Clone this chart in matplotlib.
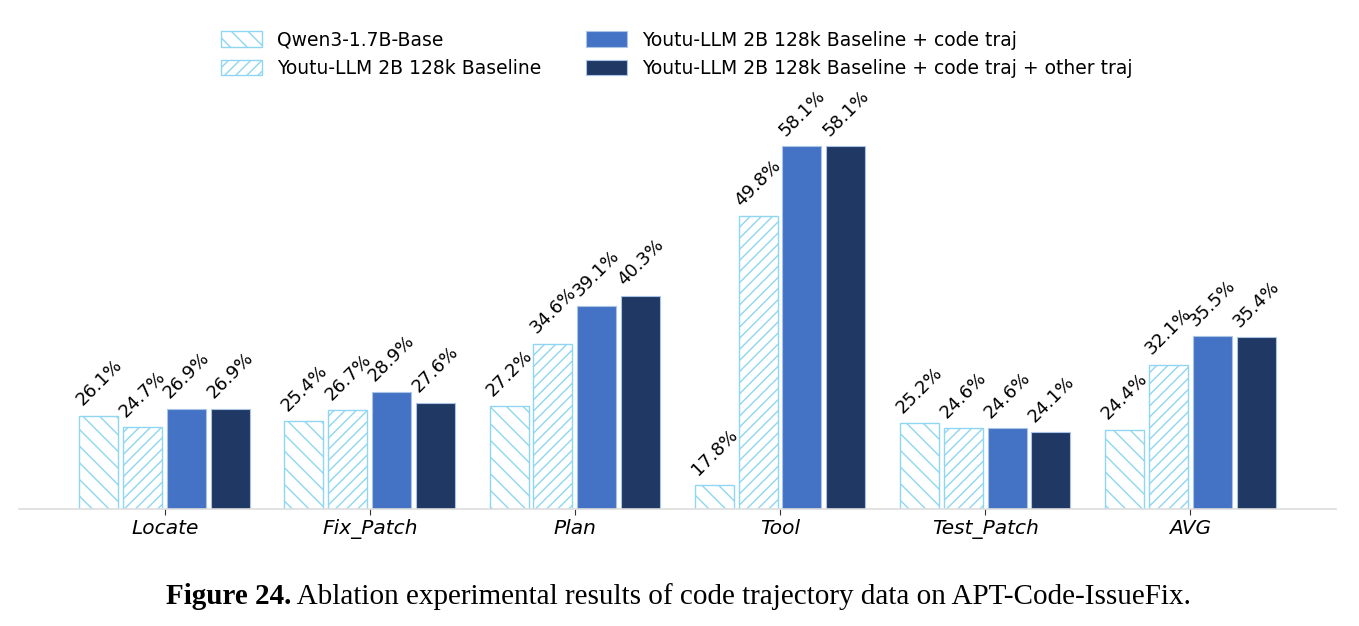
import matplotlib.pyplot as plt
import numpy as np

categories = ["Locate", "Fix_Patch", "Plan", "Tool", "Test_Patch", "AVG"]
series_names = ["Qwen3-1.7B-Base",
                "Youtu-LLM 2B 128k Baseline",
                "Youtu-LLM 2B 128k Baseline + code traj",
                "Youtu-LLM 2B 128k Baseline + code traj + other traj"]
qwen = [26.1, 25.4, 27.2, 17.8, 25.2, 24.4]
baseline = [24.7, 26.7, 34.6, 49.8, 24.6, 32.1]
code_traj = [26.9, 28.9, 39.1, 58.1, 24.6, 35.5]
other_traj = [26.9, 27.6, 40.3, 58.1, 24.1, 35.4]

hatch_col = "#8fd6f2"
plt.rcParams['hatch.color'] = hatch_col
plt.rcParams['hatch.linewidth'] = 1.0

fig = plt.figure(figsize=(13.59, 6.26), dpi=100)
ax = fig.add_axes([0.014, 0.187, 0.969, 0.66])

x = np.arange(len(categories))
step = 0.214
width = 0.19
styles = [
    dict(facecolor="white", edgecolor=hatch_col, hatch="\\\\", linewidth=1.0),
    dict(facecolor="white", edgecolor=hatch_col, hatch="///", linewidth=1.0),
    dict(facecolor="#4472c4", edgecolor="#a9c4e6", linewidth=0.8),
    dict(facecolor="#203864", edgecolor="#a9c4e6", linewidth=0.8),
]
data = [qwen, baseline, code_traj, other_traj]

for i, (vals, st, name) in enumerate(zip(data, styles, series_names)):
    pos = x + (i - 1.5) * step
    bars = ax.bar(pos, vals, width, label=name, **st)
    for b, v in zip(bars, vals):
        ax.text(b.get_x() + b.get_width() / 2, v + 0.8, "%.1f%%" % v,
                ha="center", va="bottom", rotation=45, fontsize=13)

ax.set_xlim(-0.71, 5.71)
ax.set_ylim(15, 64.1)
ax.set_xticks(x)
ax.set_xticklabels(categories, fontsize=14.5, style="italic")
ax.set_yticks([])
for s in ["top", "right", "left"]:
    ax.spines[s].set_visible(False)
ax.spines["bottom"].set_color("#dddddd")
ax.spines["bottom"].set_linewidth(1.2)
ax.tick_params(axis="x", length=4, width=0.8, color="#333333", pad=3)

fig.legend(loc="upper center", bbox_to_anchor=(0.498, 0.978), ncol=2,
           frameon=False, fontsize=13.5, handlelength=2.2, handleheight=0.9,
           columnspacing=2.4, labelspacing=0.5)

# caption, bold part + regular part, centred together
cap_y = 0.035
cap_font = dict(fontsize=21, family="Liberation Serif")
t1 = fig.text(0, cap_y, "Figure 24.", fontweight="bold", **cap_font)
t2 = fig.text(0, cap_y, " Ablation experimental results of code trajectory data on APT-Code-IssueFix.",
              **cap_font)
fig.canvas.draw()
inv = fig.transFigure.inverted()
w1 = t1.get_window_extent().transformed(inv).width
w2 = t2.get_window_extent().transformed(inv).width
x0 = 0.499 - (w1 + w2) / 2
t1.set_x(x0)
t2.set_x(x0 + w1)

fig.savefig("out.png", dpi=100)
